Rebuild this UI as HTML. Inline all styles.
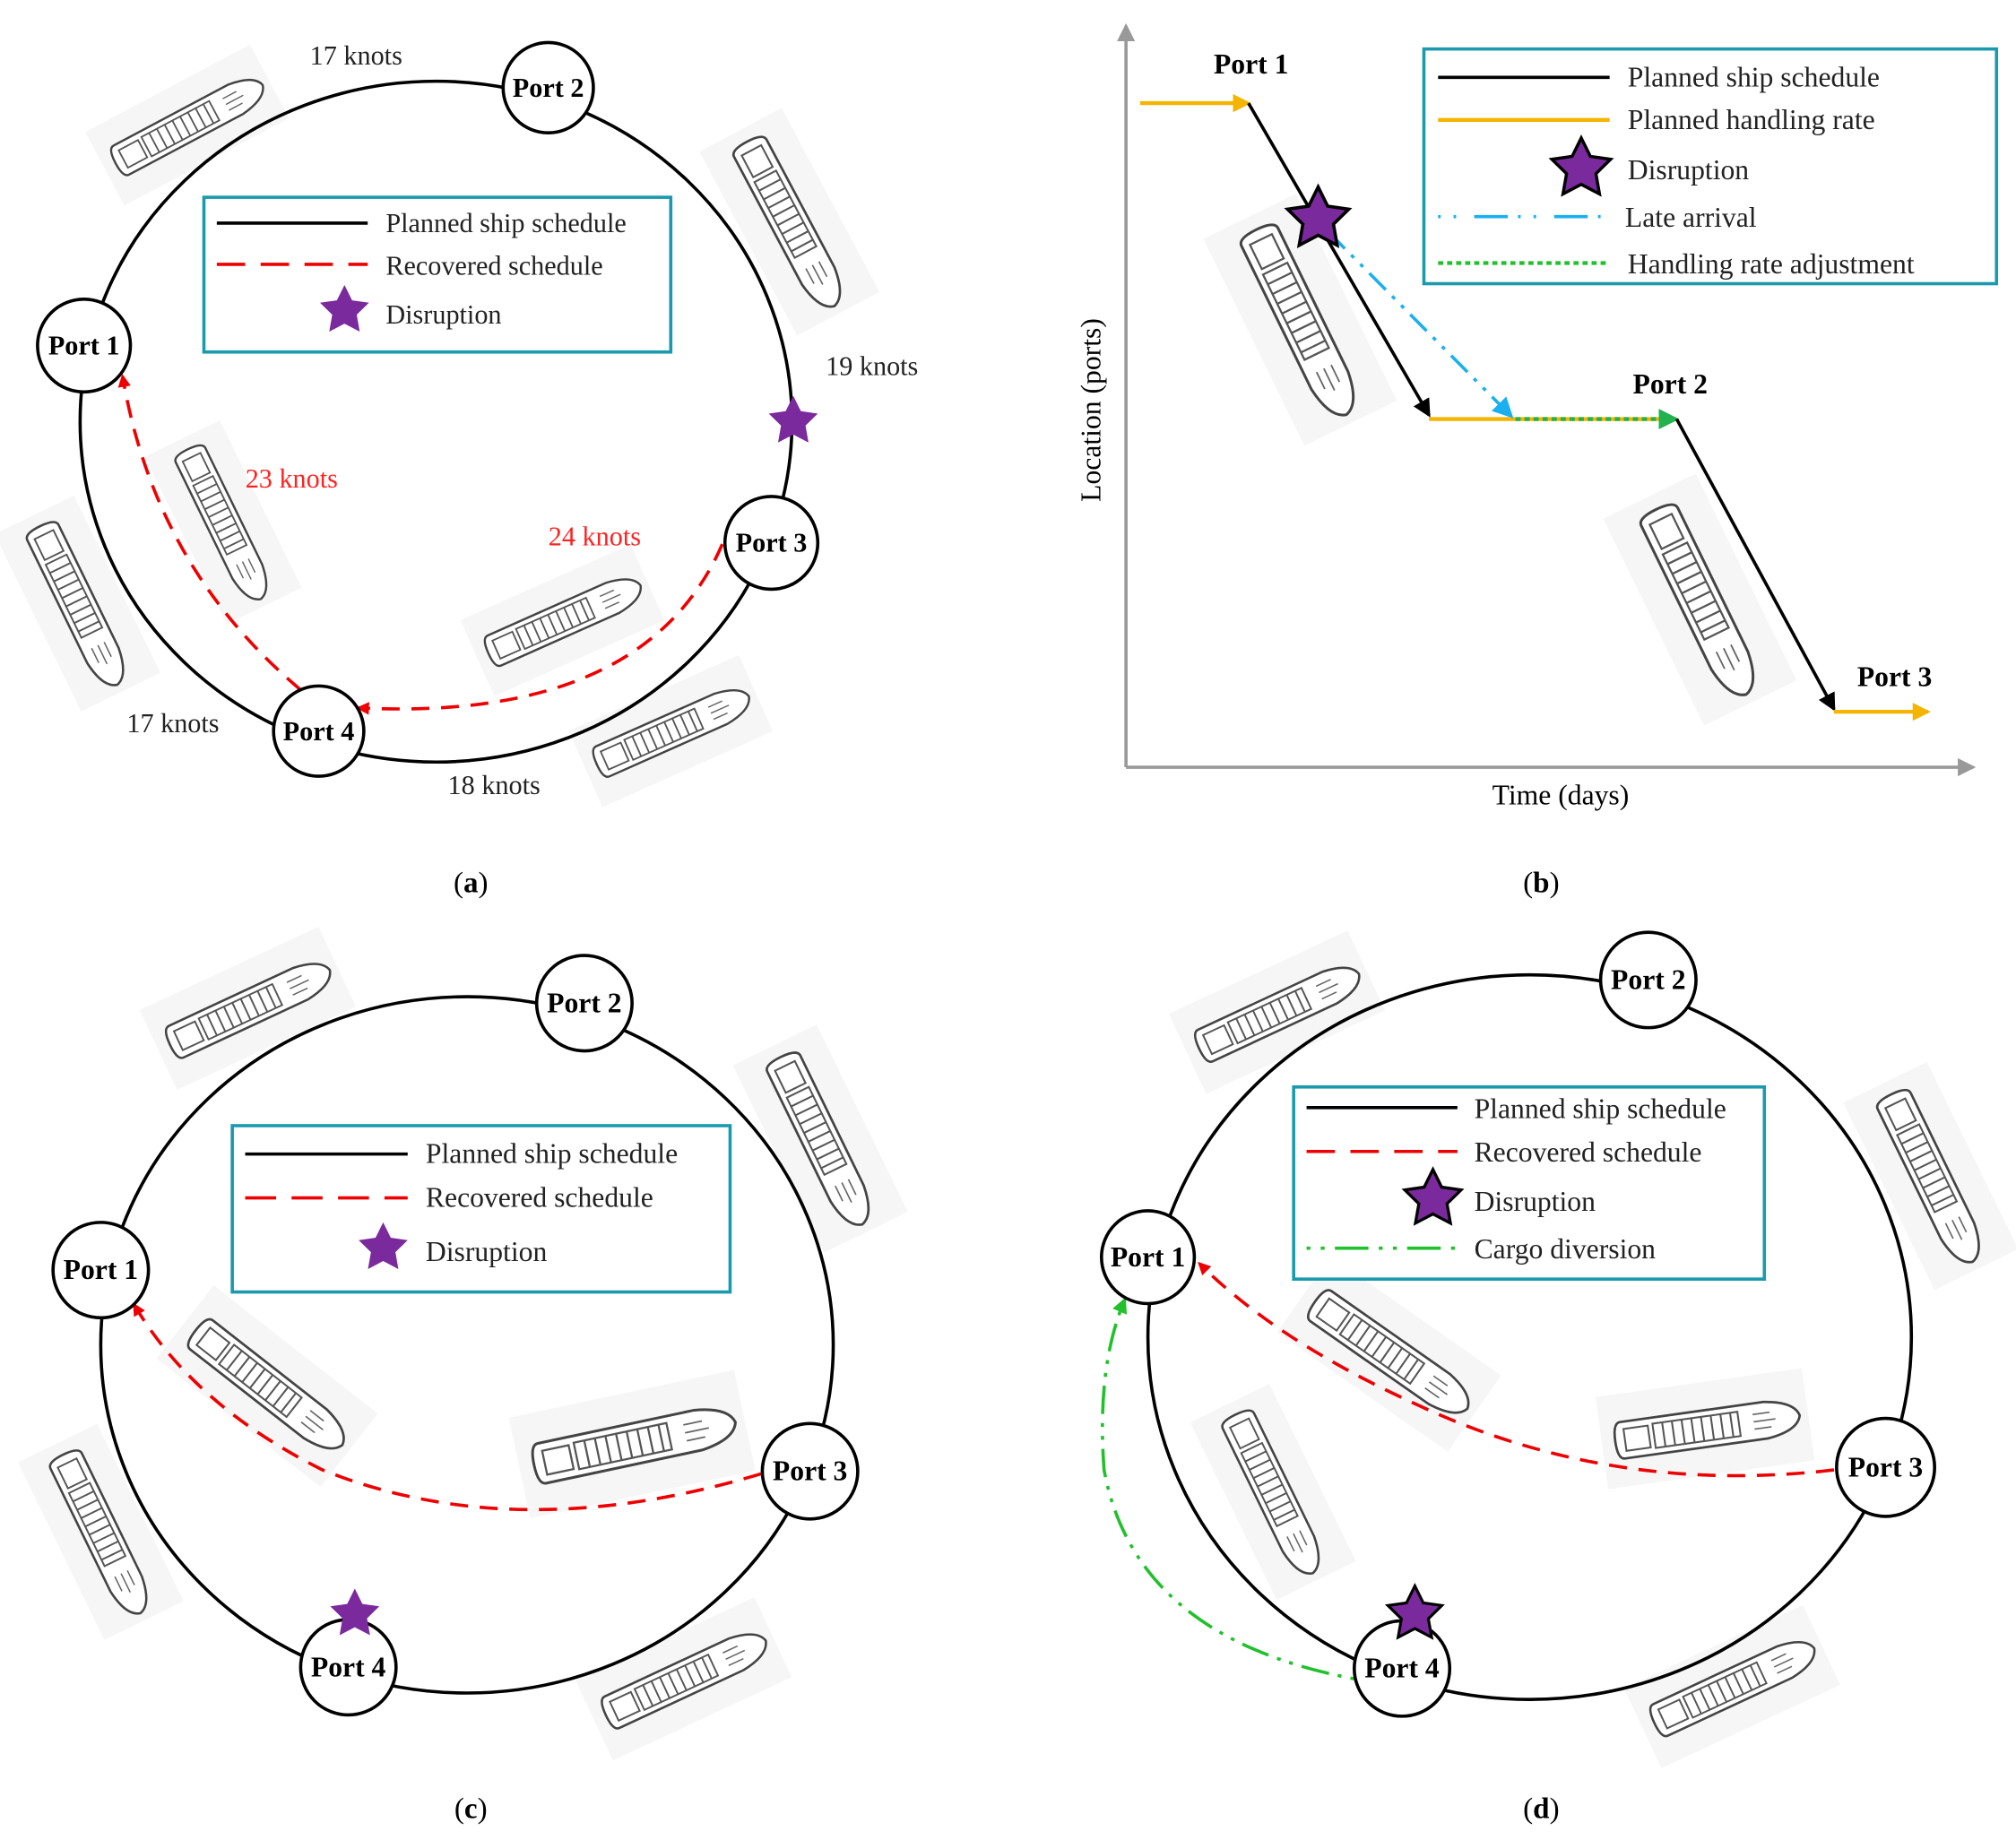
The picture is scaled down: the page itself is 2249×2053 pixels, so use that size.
<!DOCTYPE html>
<html><head><meta charset="utf-8"><style>html,body{margin:0;padding:0;background:#fff}svg{display:block}</style></head>
<body>
<svg xmlns="http://www.w3.org/2000/svg" width="2249" height="2053" viewBox="0 0 1563 1427" font-family="Liberation Serif, serif">
<defs>
<marker id="ar" markerWidth="10" markerHeight="10" refX="8" refY="5" orient="auto" markerUnits="userSpaceOnUse"><path d="M0,0 L10,5 L0,10 z" fill="#e00"/></marker>
<marker id="ak" markerWidth="14" markerHeight="14" refX="12" refY="7" orient="auto" markerUnits="userSpaceOnUse"><path d="M0,0 L14,7 L0,14 z" fill="#000"/></marker>
<marker id="ao" markerWidth="14" markerHeight="14" refX="12" refY="7" orient="auto" markerUnits="userSpaceOnUse"><path d="M0,0 L14,7 L0,14 z" fill="#f5b400"/></marker>
<marker id="ab" markerWidth="16" markerHeight="16" refX="14" refY="8" orient="auto" markerUnits="userSpaceOnUse"><path d="M0,0 L16,8 L0,16 z" fill="#1ab0f0"/></marker>
<marker id="ag" markerWidth="16" markerHeight="16" refX="14" refY="8" orient="auto" markerUnits="userSpaceOnUse"><path d="M0,0 L16,8 L0,16 z" fill="#22b14c"/></marker>
<marker id="agg" markerWidth="12" markerHeight="12" refX="10" refY="6" orient="auto" markerUnits="userSpaceOnUse"><path d="M0,0 L12,6 L0,12 z" fill="#22c02c"/></marker>
<marker id="agr" markerWidth="14" markerHeight="14" refX="12" refY="7" orient="auto" markerUnits="userSpaceOnUse"><path d="M0,0 L14,7 L0,14 z" fill="#999"/></marker>
<g id="ship">
<rect x="-85" y="-38" width="170" height="76" fill="#f6f6f6"/>
<path d="M-68,-15 L50,-15 Q75,-12 78,0 Q75,12 50,15 L-68,15 Q-74,15 -74,0 Q-74,-15 -68,-15 z" fill="#fff" stroke="#444" stroke-width="2"/>
<rect x="-66" y="-9" width="20" height="18" fill="none" stroke="#555" stroke-width="1.5"/>
<rect x="-42" y="-10" width="70" height="20" fill="none" stroke="#555" stroke-width="1.5"/>
<path d="M-34,-10v20M-26,-10v20M-18,-10v20M-10,-10v20M-2,-10v20M6,-10v20M14,-10v20M22,-10v20" stroke="#555" stroke-width="1.5"/>
<path d="M40,-6h14M40,0h18M40,6h14" stroke="#666" stroke-width="1.2"/>
</g>
<path id="star" d="M0,-20 L5.9,-8.1 L19,-6.2 L9.5,3.1 L11.8,16.2 L0,10 L-11.8,16.2 L-9.5,3.1 L-19,-6.2 L-5.9,-8.1 z"/>
</defs>
<rect width="1563" height="1427" fill="#fff"/>

<!-- ===== Panel (a) ===== -->
<use href="#ship" transform="translate(145,97) rotate(-28) scale(0.85)"/>
<use href="#ship" transform="translate(612,172) rotate(62) scale(0.95)"/>
<use href="#ship" transform="translate(173,405) rotate(64) scale(0.85)"/>
<use href="#ship" transform="translate(60,468) rotate(64) scale(0.9)"/>
<use href="#ship" transform="translate(436,481) rotate(-24) scale(0.85)"/>
<use href="#ship" transform="translate(520,567) rotate(-24) scale(0.85)"/>
<ellipse cx="338" cy="327" rx="276" ry="264" fill="none" stroke="#000" stroke-width="2.5"/>
<rect x="158" y="153" width="362" height="120" fill="#fff" stroke="#1a9aac" stroke-width="2.5"/>
<line x1="168" y1="173" x2="285" y2="173" stroke="#000" stroke-width="2.5"/>
<line x1="168" y1="205" x2="285" y2="205" stroke="#e00" stroke-width="2.5" stroke-dasharray="22,12"/>
<use href="#star" transform="translate(267,241)" fill="#7a2a9c"/>
<g font-size="21" fill="#222"><text x="299" y="180">Planned ship schedule</text><text x="299" y="213">Recovered schedule</text><text x="299" y="251">Disruption</text></g>
<path d="M233,535 Q120,440 95,292" fill="none" stroke="#e00" stroke-width="2.5" stroke-dasharray="14,9" marker-end="url(#ar)"/>
<path d="M560,422 Q500,560 278,549" fill="none" stroke="#e00" stroke-width="2.5" stroke-dasharray="14,9" marker-end="url(#ar)"/>
<use href="#star" transform="translate(615,327)" fill="#7a2a9c"/>
<g stroke="#000" stroke-width="2.5" fill="#fff">
<circle cx="425" cy="68" r="35"/><circle cx="65" cy="268" r="36"/><circle cx="598" cy="421" r="36"/><circle cx="247" cy="567" r="35"/></g>
<g font-size="21" font-weight="bold" text-anchor="middle">
<text x="425" y="75">Port 2</text><text x="65" y="275">Port 1</text><text x="598" y="428">Port 3</text><text x="247" y="574">Port 4</text></g>
<g font-size="21" text-anchor="middle" fill="#222">
<text x="276" y="50">17 knots</text><text x="676" y="291">19 knots</text><text x="134" y="568">17 knots</text><text x="383" y="616">18 knots</text></g>
<g font-size="21" text-anchor="middle" fill="#f22"><text x="226" y="378">23 knots</text><text x="461" y="423">24 knots</text></g>
<text x="365" y="692" font-size="23" text-anchor="middle">(<tspan font-weight="bold">a</tspan>)</text>

<!-- ===== Panel (b) ===== -->
<use href="#ship" transform="translate(1008,248) rotate(64) scale(1.05)"/>
<use href="#ship" transform="translate(1318,465) rotate(64) scale(1.05)"/>
<line x1="873" y1="595" x2="873" y2="20" stroke="#999" stroke-width="2.5" marker-end="url(#agr)"/>
<line x1="873" y1="595" x2="1530" y2="595" stroke="#999" stroke-width="2.5" marker-end="url(#agr)"/>
<text transform="translate(853,318) rotate(-90)" font-size="22" text-anchor="middle">Location (ports)</text>
<text x="1210" y="624" font-size="22" text-anchor="middle">Time (days)</text>
<line x1="884" y1="80" x2="968" y2="80" stroke="#f5b400" stroke-width="3" marker-end="url(#ao)"/>
<line x1="968" y1="80" x2="1108" y2="322" stroke="#000" stroke-width="2.5" marker-end="url(#ak)"/>
<line x1="1108" y1="325" x2="1175" y2="325" stroke="#f5b400" stroke-width="3"/>
<line x1="1175" y1="325" x2="1300" y2="325" stroke="#f5b400" stroke-width="3"/>
<line x1="1175" y1="325" x2="1300" y2="325" stroke="#22b14c" stroke-width="3" stroke-dasharray="4,3" marker-end="url(#ag)"/>
<line x1="1300" y1="325" x2="1422" y2="550" stroke="#000" stroke-width="2.5" marker-end="url(#ak)"/>
<line x1="1422" y1="552" x2="1495" y2="552" stroke="#f5b400" stroke-width="3" marker-end="url(#ao)"/>
<line x1="1030" y1="180" x2="1172" y2="323" stroke="#1ab0f0" stroke-width="2.5" stroke-dasharray="18,7,3,7,3,7" marker-end="url(#ab)"/>
<use href="#star" transform="translate(1022,170) scale(1.25)" fill="#7a2a9c" stroke="#000" stroke-width="2"/>
<g font-size="22" font-weight="bold" text-anchor="middle"><text x="970" y="57">Port 1</text><text x="1295" y="305">Port 2</text><text x="1469" y="532">Port 3</text></g>
<rect x="1104" y="38" width="444" height="182" fill="#fff" stroke="#1a9aac" stroke-width="2.5"/>
<line x1="1115" y1="60" x2="1248" y2="60" stroke="#000" stroke-width="2.5"/>
<line x1="1115" y1="93" x2="1248" y2="93" stroke="#f5b400" stroke-width="3"/>
<use href="#star" transform="translate(1226,131) scale(1.2)" fill="#7a2a9c" stroke="#000" stroke-width="2"/>
<line x1="1115" y1="168" x2="1248" y2="168" stroke="#1ab0f0" stroke-width="2.5" stroke-dasharray="2,10,2,14,26,8"/>
<line x1="1115" y1="204" x2="1248" y2="204" stroke="#22c02c" stroke-width="3" stroke-dasharray="4,3"/>
<g font-size="22" fill="#222"><text x="1262" y="67">Planned ship schedule</text><text x="1262" y="100">Planned handling rate</text><text x="1262" y="139">Disruption</text><text x="1260" y="176">Late arrival</text><text x="1262" y="212">Handling rate adjustment</text></g>
<text x="1195" y="692" font-size="23" text-anchor="middle">(<tspan font-weight="bold">b</tspan>)</text>

<!-- ===== Panel (c) ===== -->
<use href="#ship" transform="translate(192,782) rotate(-25) scale(0.9)"/>
<use href="#ship" transform="translate(636,883) rotate(64) scale(0.95)"/>
<use href="#ship" transform="translate(207,1075) rotate(38) scale(0.95)"/>
<use href="#ship" transform="translate(490,1120) rotate(-12) scale(1.05)"/>
<use href="#ship" transform="translate(78,1188) rotate(64) scale(0.9)"/>
<use href="#ship" transform="translate(530,1302) rotate(-25) scale(0.9)"/>
<ellipse cx="362" cy="1043" rx="284" ry="270" fill="none" stroke="#000" stroke-width="2.5"/>
<rect x="180" y="873" width="386" height="129" fill="#fff" stroke="#1a9aac" stroke-width="2.5"/>
<line x1="190" y1="895" x2="316" y2="895" stroke="#000" stroke-width="2.5"/>
<line x1="190" y1="929" x2="316" y2="929" stroke="#e00" stroke-width="2.5" stroke-dasharray="24,12"/>
<use href="#star" transform="translate(297,968)" fill="#7a2a9c"/>
<g font-size="22" fill="#222"><text x="330" y="902">Planned ship schedule</text><text x="330" y="936">Recovered schedule</text><text x="330" y="978">Disruption</text></g>
<path d="M590,1143 Q400,1200 250,1140 Q150,1090 104,1012" fill="none" stroke="#e00" stroke-width="2.5" stroke-dasharray="14,9" marker-end="url(#ar)"/>
<g stroke="#000" stroke-width="2.5" fill="#fff">
<circle cx="453" cy="778" r="37"/><circle cx="78" cy="985" r="37"/><circle cx="628" cy="1141" r="37"/><circle cx="270" cy="1293" r="37"/></g>
<use href="#star" transform="translate(275,1252)" fill="#7a2a9c"/>
<g font-size="22" font-weight="bold" text-anchor="middle">
<text x="453" y="785">Port 2</text><text x="78" y="992">Port 1</text><text x="628" y="1148">Port 3</text><text x="270" y="1300">Port 4</text></g>
<text x="365" y="1410" font-size="23" text-anchor="middle">(<tspan font-weight="bold">c</tspan>)</text>

<!-- ===== Panel (d) ===== -->
<use href="#ship" transform="translate(990,785) rotate(-25) scale(0.9)"/>
<use href="#ship" transform="translate(1497,912) rotate(64) scale(0.95)"/>
<use href="#ship" transform="translate(1077,1050) rotate(35) scale(0.95)"/>
<use href="#ship" transform="translate(1322,1108) rotate(-8) scale(0.95)"/>
<use href="#ship" transform="translate(987,1157) rotate(64) scale(0.9)"/>
<use href="#ship" transform="translate(1343,1308) rotate(-25) scale(0.9)"/>
<ellipse cx="1186" cy="1037" rx="296" ry="281" fill="none" stroke="#000" stroke-width="2.5"/>
<rect x="1003" y="843" width="365" height="149" fill="#fff" stroke="#1a9aac" stroke-width="2.5"/>
<line x1="1013" y1="859" x2="1130" y2="859" stroke="#000" stroke-width="2.5"/>
<line x1="1013" y1="893" x2="1130" y2="893" stroke="#e00" stroke-width="2.5" stroke-dasharray="22,12"/>
<use href="#star" transform="translate(1111,930) scale(1.15)" fill="#7a2a9c" stroke="#000" stroke-width="2"/>
<line x1="1013" y1="968" x2="1130" y2="968" stroke="#22c02c" stroke-width="2.5" stroke-dasharray="3,8,3,8,26,8"/>
<g font-size="22" fill="#222"><text x="1143" y="867">Planned ship schedule</text><text x="1143" y="901">Recovered schedule</text><text x="1143" y="939">Disruption</text><text x="1143" y="976">Cargo diversion</text></g>
<path d="M1422,1140 Q1250,1160 1100,1090 Q990,1040 930,980" fill="none" stroke="#e00" stroke-width="2.5" stroke-dasharray="14,9" marker-end="url(#ar)"/>
<path d="M1050,1302 Q880,1270 856,1140 Q850,1060 872,1008" fill="none" stroke="#22c02c" stroke-width="2.5" stroke-dasharray="3,7,3,7,22,7" marker-end="url(#agg)"/>
<g stroke="#000" stroke-width="2.5" fill="#fff">
<circle cx="1278" cy="760" r="37"/><circle cx="890" cy="975" r="36"/><circle cx="1462" cy="1138" r="38"/><circle cx="1087" cy="1294" r="37"/></g>
<use href="#star" transform="translate(1097,1252) scale(1.1)" fill="#7a2a9c" stroke="#000" stroke-width="2"/>
<g font-size="22" font-weight="bold" text-anchor="middle">
<text x="1278" y="767">Port 2</text><text x="890" y="982">Port 1</text><text x="1462" y="1145">Port 3</text><text x="1087" y="1301">Port 4</text></g>
<text x="1195" y="1410" font-size="23" text-anchor="middle">(<tspan font-weight="bold">d</tspan>)</text>
</svg>
</body></html>
